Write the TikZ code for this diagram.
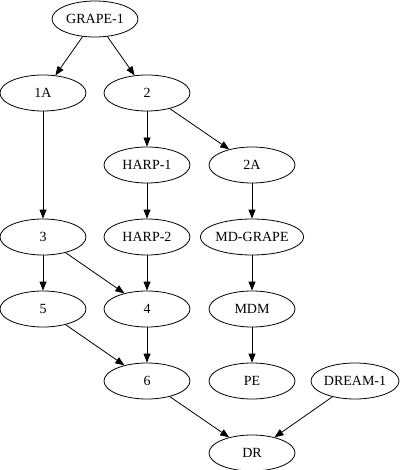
\documentclass[tikz,border=0pt]{standalone}
\usepackage{fontspec}
\setmainfont{Liberation Serif}
\usetikzlibrary{shapes.geometric,arrows.meta}
\begin{document}
\begin{tikzpicture}[x=1pt,y=-1pt,
  nd/.style={ellipse,draw,line width=0.8pt,minimum width=86pt,minimum height=36pt,inner sep=0pt,font=\fontsize{14}{16}\selectfont},
  ed/.style={-{Triangle[length=9pt,width=7pt]},line width=0.8pt}]
\useasboundingbox (0,0) rectangle (400,470);
\node[nd] (g1) at (95,19) {GRAPE-1};
\node[nd] (a1) at (43,93) {1A};
\node[nd] (n2) at (147,93) {2};
\node[nd] (h1) at (147,165) {HARP-1};
\node[nd] (a2) at (252,165) {2A};
\node[nd] (n3) at (43,237) {3};
\node[nd] (h2) at (147,237) {HARP-2};
\node[nd] (md) at (252,237) {MD-GRAPE};
\node[nd] (n5) at (43,309) {5};
\node[nd] (n4) at (147,309) {4};
\node[nd] (mdm) at (252,309) {MDM};
\node[nd] (n6) at (147,381) {6};
\node[nd] (pe) at (252,381) {PE};
\node[nd] (dm) at (355,381) {DREAM-1};
\node[nd] (dr) at (252,453) {DR};
\draw[ed] (g1) -- (a1);
\draw[ed] (g1) -- (n2);
\draw[ed] (a1) -- (n3);
\draw[ed] (n2) -- (h1);
\draw[ed] (n2) -- (a2);
\draw[ed] (h1) -- (h2);
\draw[ed] (a2) -- (md);
\draw[ed] (n3) -- (n5);
\draw[ed] (n3) -- (n4);
\draw[ed] (h2) -- (n4);
\draw[ed] (md) -- (mdm);
\draw[ed] (n5) -- (n6);
\draw[ed] (n4) -- (n6);
\draw[ed] (mdm) -- (pe);
\draw[ed] (n6) -- (dr);
\draw[ed] (dm) -- (dr);
\end{tikzpicture}
\end{document}
